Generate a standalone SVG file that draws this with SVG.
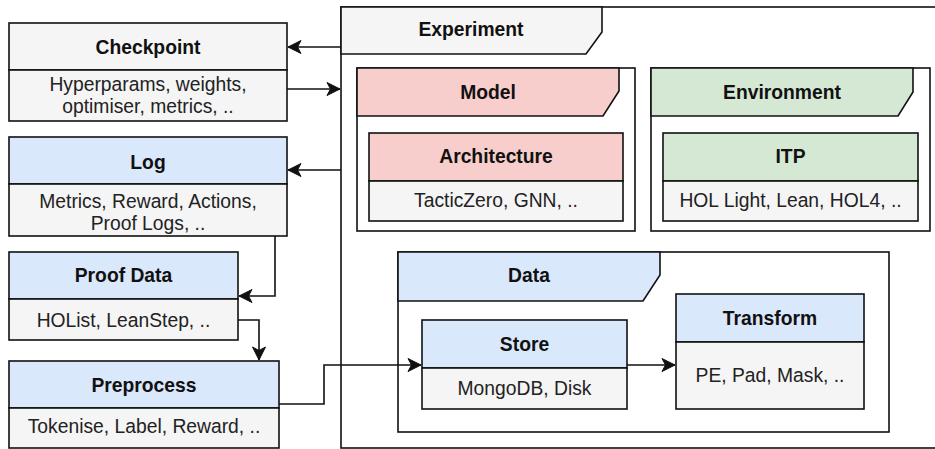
<svg xmlns="http://www.w3.org/2000/svg" width="935" height="449" viewBox="0 0 935 449">
<defs>
<style>
.bx{stroke:#111;stroke-width:1.6;}
.gray{fill:#f5f5f5;}
.blue{fill:#dae8fc;}
.red{fill:#f8cecc;}
.green{fill:#d5e8d4;}
.white{fill:#fff;}
.h{font-family:"Liberation Sans",Arial,sans-serif;font-weight:bold;font-size:19.3px;fill:#111;text-anchor:middle;}
.t{font-family:"Liberation Sans",Arial,sans-serif;font-size:19.3px;fill:#222;text-anchor:middle;}
.c{fill:none;stroke:#111;stroke-width:1.6;}
</style>
<marker id="arr" markerUnits="userSpaceOnUse" markerWidth="16" markerHeight="16" viewBox="-14 -8 16 16" refX="0" refY="0" orient="auto">
<path d="M0,0 L-13,-6.5 L-9.5,0 L-13,6.5 Z" fill="#111" stroke="#111" stroke-width="1"/>
</marker>
</defs>
<rect width="935" height="449" fill="#fff"/>

<g id="experiment">
<rect class="bx white" x="341" y="7" width="610" height="441"/>
<polygon class="bx gray" points="341,7 602,7 602,32 586,54 341,54"/>
<text class="h" x="471" y="36">Experiment</text>
</g>

<g id="model">
<rect class="bx white" x="357" y="68" width="278" height="163"/>
<polygon class="bx red" points="357,68 619,68 619,91 603,116 357,116"/>
<text class="h" x="488" y="99">Model</text>
</g>

<g id="architecture">
<rect class="bx red" x="369" y="133" width="254" height="48"/>
<rect class="bx gray" x="369" y="181" width="254" height="40"/>
<text class="h" x="496" y="163">Architecture</text>
<text class="t" x="496" y="207">TacticZero, GNN, ..</text>
</g>

<g id="environment">
<rect class="bx white" x="651" y="68" width="279" height="163"/>
<polygon class="bx green" points="651,68 913,68 913,92 898,116 651,116"/>
<text class="h" x="782" y="99">Environment</text>
</g>

<g id="itp">
<rect class="bx green" x="663" y="133" width="255" height="48"/>
<rect class="bx gray" x="663" y="181" width="255" height="40"/>
<text class="h" x="790.5" y="163">ITP</text>
<text class="t" x="790.5" y="207">HOL Light, Lean, HOL4, ..</text>
</g>

<g id="data">
<rect class="bx white" x="398" y="252" width="491" height="180"/>
<polygon class="bx blue" points="398,252 660,252 660,275 643,301 398,301"/>
<text class="h" x="529" y="282">Data</text>
</g>

<g id="store">
<rect class="bx blue" x="422" y="320" width="205" height="48"/>
<rect class="bx gray" x="422" y="368" width="205" height="41"/>
<text class="h" x="524.5" y="351">Store</text>
<text class="t" x="524.5" y="395">MongoDB, Disk</text>
</g>

<g id="transform">
<rect class="bx blue" x="676" y="294" width="188" height="48"/>
<rect class="bx gray" x="676" y="342" width="188" height="67"/>
<text class="h" x="770" y="325">Transform</text>
<text class="t" x="770" y="382">PE, Pad, Mask, ..</text>
</g>

<g id="checkpoint">
<rect class="bx gray" x="9" y="23" width="278" height="47"/>
<rect class="bx gray" x="9" y="70" width="278" height="51"/>
<text class="h" x="148" y="54">Checkpoint</text>
<text class="t" x="148" y="91">Hyperparams, weights,</text>
<text class="t" x="148" y="113">optimiser, metrics, ..</text>
</g>

<g id="log">
<rect class="bx blue" x="9" y="137" width="278" height="47"/>
<rect class="bx gray" x="9" y="184" width="278" height="52"/>
<text class="h" x="148" y="169">Log</text>
<text class="t" x="148" y="208">Metrics, Reward, Actions,</text>
<text class="t" x="148" y="230">Proof Logs, ..</text>
</g>

<g id="proofdata">
<rect class="bx blue" x="9" y="252" width="229" height="47"/>
<rect class="bx gray" x="9" y="299" width="229" height="41"/>
<text class="h" x="123.5" y="282">Proof Data</text>
<text class="t" x="123.5" y="327">HOList, LeanStep, ..</text>
</g>

<g id="preprocess">
<rect class="bx blue" x="9" y="361" width="270" height="47"/>
<rect class="bx gray" x="9" y="408" width="270" height="40"/>
<text class="h" x="144" y="392">Preprocess</text>
<text class="t" x="144" y="433">Tokenise, Label, Reward, ..</text>
</g>

<g id="connectors">
<path class="c" d="M341,47 L288,47" marker-end="url(#arr)"/>
<path class="c" d="M287,89 L340,89" marker-end="url(#arr)"/>
<path class="c" d="M341,170 L288,170" marker-end="url(#arr)"/>
<path class="c" d="M275,236 L275,296 L239,296" marker-end="url(#arr)"/>
<path class="c" d="M238,320 L259,320 L259,360" marker-end="url(#arr)"/>
<path class="c" d="M279,404 L324,404 L324,365 L421,365" marker-end="url(#arr)"/>
<path class="c" d="M627,365 L675,365" marker-end="url(#arr)"/>
</g>
</svg>
